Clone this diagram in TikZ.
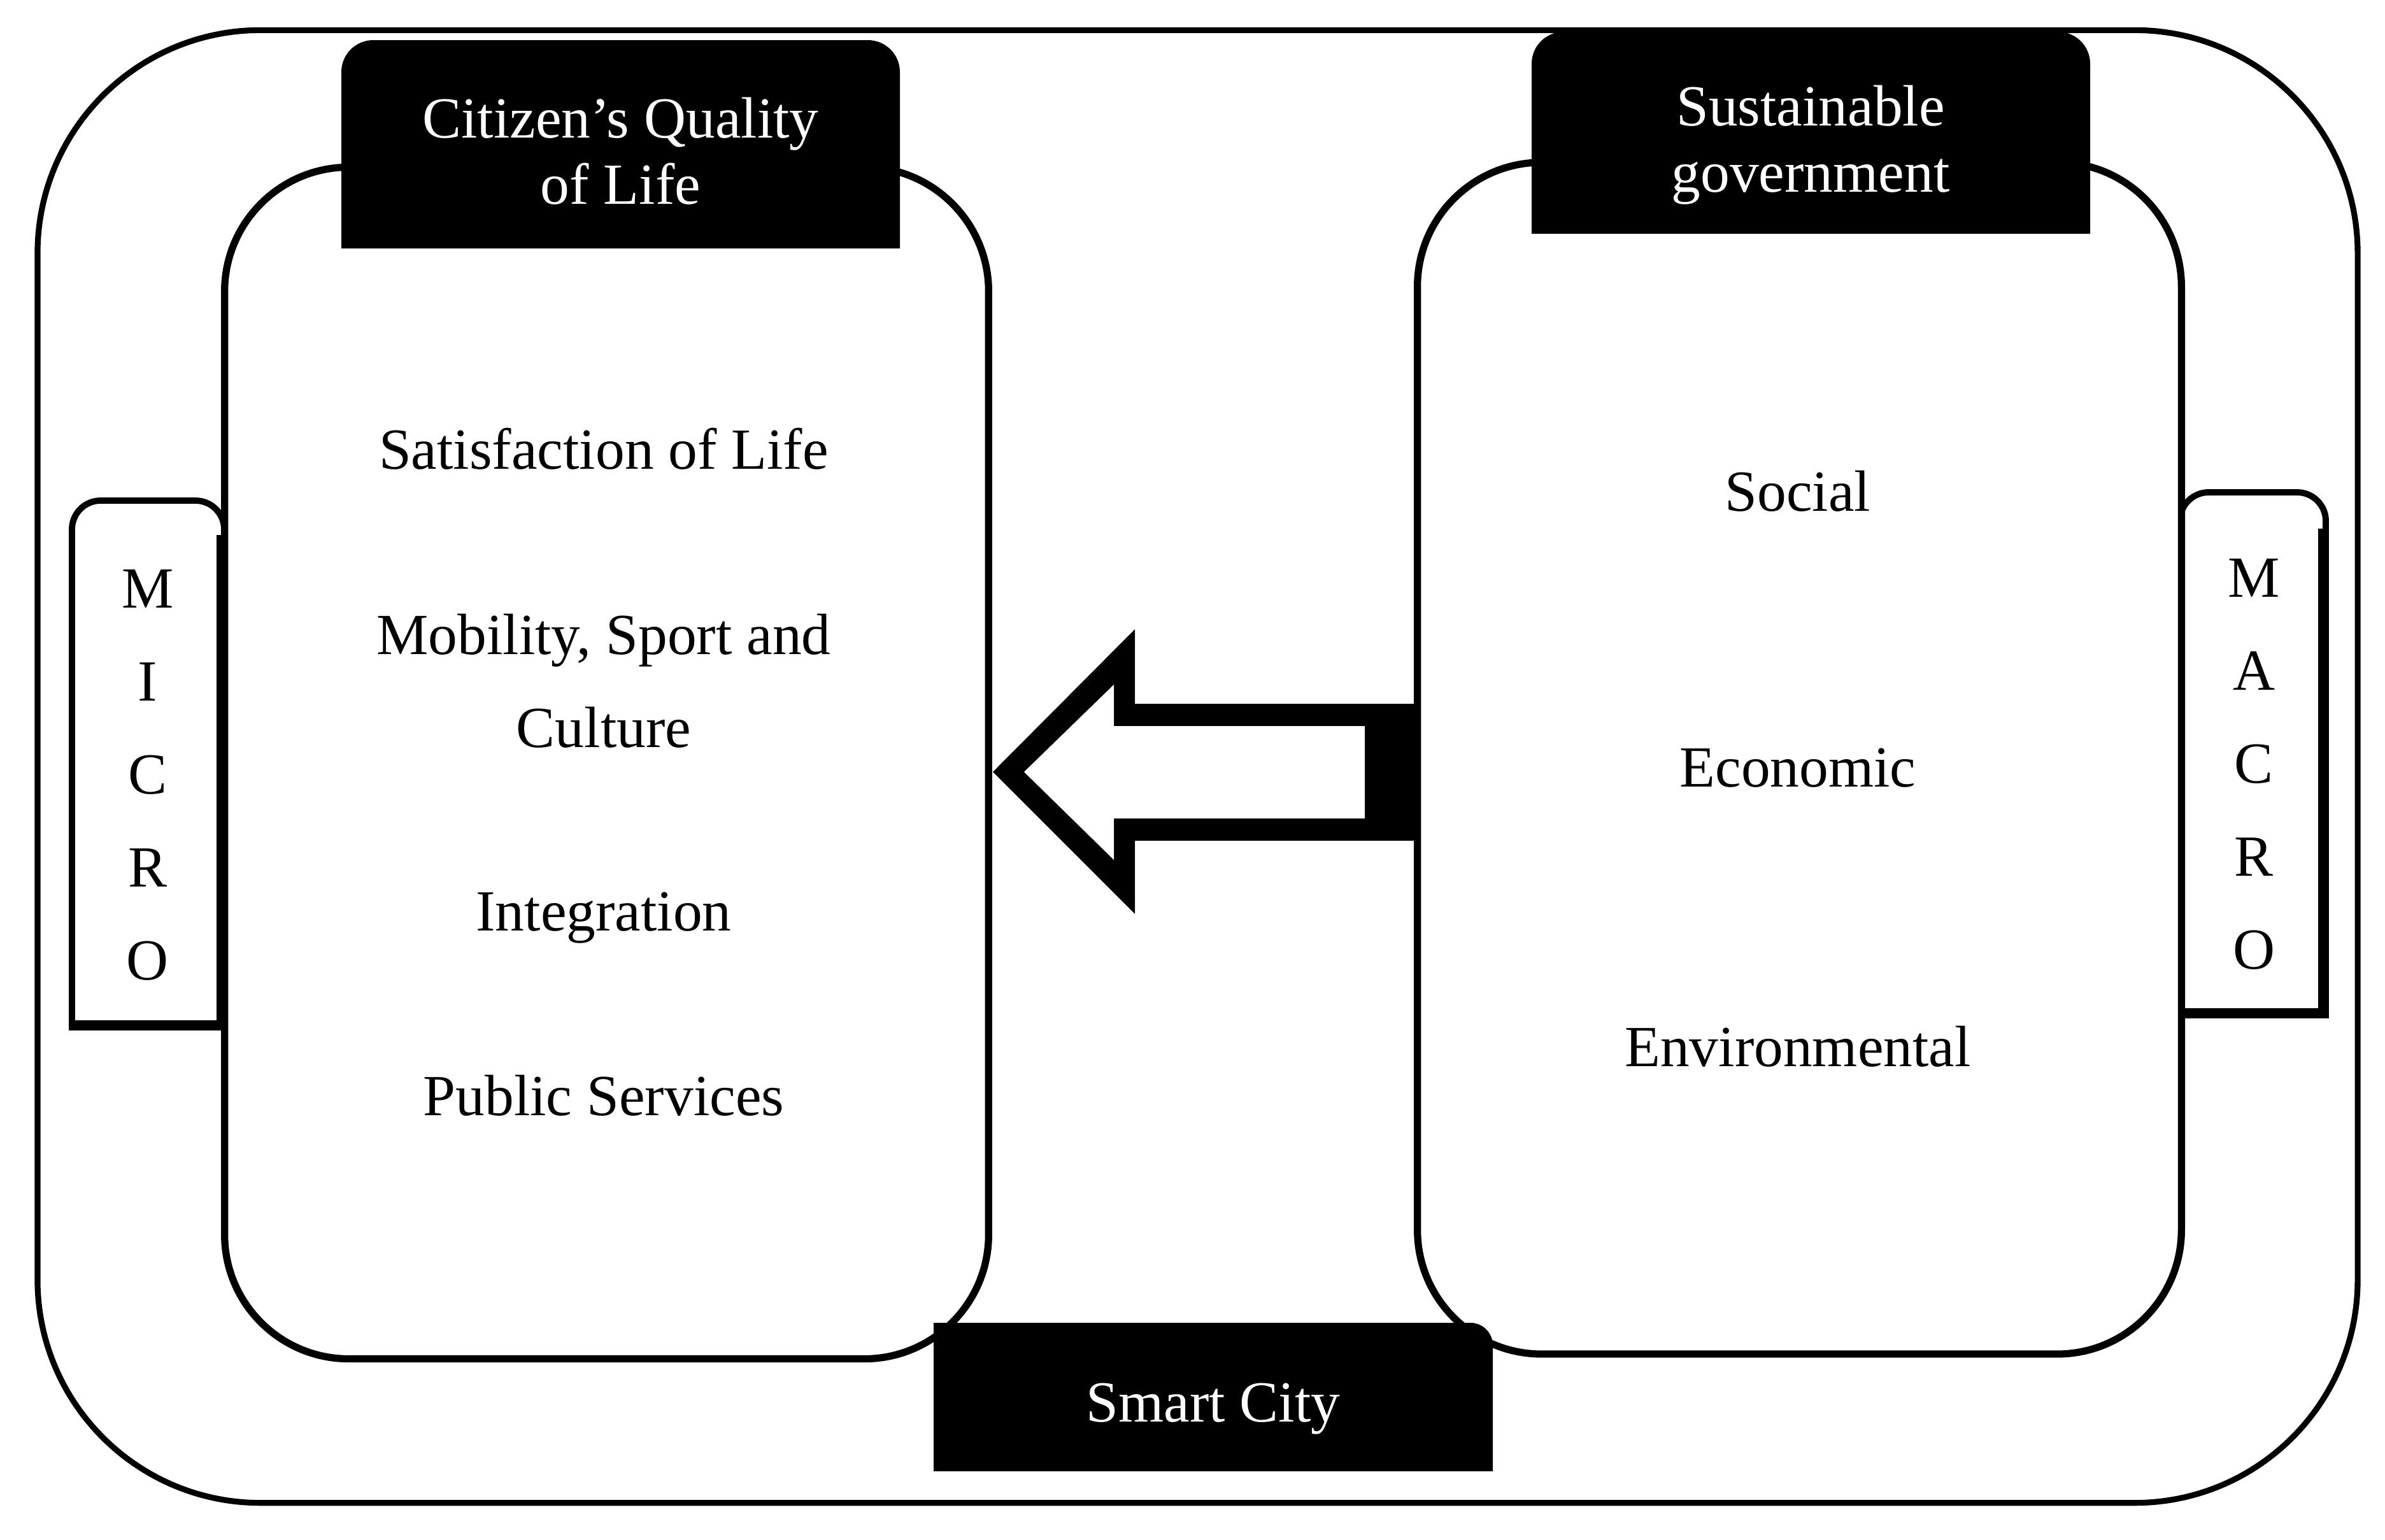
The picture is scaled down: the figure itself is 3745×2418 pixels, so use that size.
\documentclass[tikz,border=0pt]{standalone}
\usepackage{fontspec}
\setmainfont{Liberation Serif}
\usepackage{tikz}
\usetikzlibrary{positioning}
\tikzset{ %
  ,frame/.style={draw, line width=2.6pt, rounded corners=3.5cm, inner sep=0}
  ,panel/.style={draw, line width=3.2pt, fill=white, rounded corners=1.95cm, inner sep=0, minimum width=11.99cm, minimum height=18.7cm}
  ,head/.style={text=white, align=center, inner sep=0, font=\fontsize{26}{29.5}\selectfont}
  ,item/.style={align=center, inner sep=0, font=\fontsize{26}{41.5}\selectfont}
  ,tagtxt/.style={align=center, inner sep=0, font=\fontsize{26}{41.5}\selectfont}
}

\begin{document}
\begin{tikzpicture}[x=0.01cm, y=-0.01cm]
  \useasboundingbox (0,0) rectangle (3745,2418);
  % outer frame
  \node[frame, minimum width=36.41cm, minimum height=23.11cm] (city) at (1880.5,1203.5) {};
  % side tags
  \draw[line width=2.8pt] (113,1613) [rounded corners=0.45cm] -- (113,786) -- (352,786) [sharp corners] -- (352,1613) -- cycle;
  \draw[line width=4.6pt] (348,840) -- (348,1610) -- (113,1610);
  \draw[line width=2.8pt] (3423,1594) [rounded corners=0.45cm] -- (3423,773) -- (3652,773) [sharp corners] -- (3652,1594) -- cycle;
  \draw[line width=4.6pt] (3648,830) -- (3648,1591) -- (3423,1591);
  \node[tagtxt] (micro) at (232,1217) {M\\I\\C\\R\\O};
  \node[tagtxt] (macro) at (3539,1200) {M\\A\\C\\R\\O};
  % panels
  \node[panel] (qol) at (952.5,1198) {};
  \node[panel] (gov) at (2825.5,1190.5) {};
  % headers
  \fill (536,390) [rounded corners=0.5cm] -- (536,63) -- (1413,63) [sharp corners] -- (1413,390) -- cycle;
  \fill (2405,367) [rounded corners=0.5cm] -- (2405,50) -- (3282,50) [sharp corners] -- (3282,367) -- cycle;
  \node[head] (qolhead) at (974.5,237.5) {Citizen’s Quality\\of Life};
  \node[head] (govhead) at (2843,228) {Sustainable\\government};
  % panel items
  \node[item] (sat) at (948,705) {Satisfaction of Life};
  \node[item] (mob) at (948,1069) {Mobility, Sport and\\Culture};
  \node[item] (integ) at (948,1441) {Integration};
  \node[item] (pub) at (948,1720) {Public Services};
  \node[item] (soc) at (2823,771) {Social};
  \node[item] (eco) at (2823,1206) {Economic};
  \node[item] (env) at (2823,1643) {Environmental};
  % block arrow
  \fill (1559,1212) -- (1782,988) -- (1782,1105) -- (2228,1105) -- (2228,1320) -- (1782,1320) -- (1782,1435) -- cycle;
  \fill[white] (1608,1212) -- (1749,1075) -- (1749,1140) -- (2143,1140) -- (2143,1285) -- (1749,1285) -- (1749,1350) -- cycle;
  % smart city label
  \fill (1466,2310) -- (1466,2077) [rounded corners=0.35cm] -- (2344,2077) [sharp corners] -- (2344,2310) -- cycle;
  \node[head] (smart) at (1905,2212) {Smart City};
\end{tikzpicture}
\end{document}
